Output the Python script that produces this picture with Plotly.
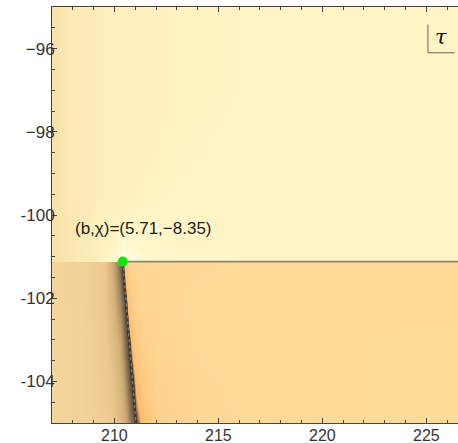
import plotly.graph_objects as go

# ---- critical point and boundary curves ----
crit_x, crit_y = 210.4, -101.12          # green marker
branch_bottom_x, branch_bottom_y = 211.04, -105.0   # lower end of the slanted branch
cut_right_x = 226.52                      # horizontal cut runs to the right edge
label_text = "(b,χ)=(5.71,−8.35)"
label_x, label_y = 208.01, -100.32

# ---- axis ticks ----
x_ticks = [210, 215, 220, 225]
y_ticks = [-104, -102, -100, -98, -96]
y_tick_text = ["-104", "-102", "-100", "−98", "−96"]

# ---- τ levels, lower half-plane (below the cut) ----
# 0 = pale sand on the far left, 0.5 = dark ridge along the branch,
# above 0.5 = orange glow fading into the yellow plateau on the right
lower_x = [207.0, 208.5, 209.5, 210.0, 210.25, 210.4, 210.56, 210.72,
           210.88, 211.04, 211.3, 212.0, 214.0, 218.0, 226.52]
lower_y = [-105.0, -104.03, -103.06, -102.09, -101.12]
lower_z = [
    [0.00, 0.02, 0.06, 0.11, 0.16, 0.20, 0.23, 0.32, 0.40, 0.50, 0.59, 0.82, 0.93, 0.97, 0.99],
    [0.00, 0.02, 0.07, 0.13, 0.19, 0.23, 0.32, 0.40, 0.50, 0.62, 0.72, 0.86, 0.94, 0.97, 0.99],
    [0.00, 0.02, 0.08, 0.16, 0.23, 0.32, 0.40, 0.50, 0.66, 0.76, 0.83, 0.90, 0.96, 0.97, 0.99],
    [0.00, 0.03, 0.09, 0.20, 0.32, 0.40, 0.50, 0.72, 0.80, 0.86, 0.89, 0.93, 0.96, 0.97, 0.97],
    [0.00, 0.03, 0.09, 0.25, 0.40, 0.50, 0.80, 0.86, 0.89, 0.90, 0.92, 0.93, 0.94, 0.96, 0.96],
]
lower_scale = [
    [0.000, "#f5d59b"], [0.100, "#ebc88d"], [0.208, "#d4b07a"], [0.317, "#a88a60"],
    [0.417, "#6e5c44"], [0.500, "#3f362b"], [0.590, "#ffb968"], [0.720, "#ffc880"],
    [0.860, "#ffd38f"], [1.000, "#ffdc99"],
]

# ---- τ levels, upper half-plane (above the cut) ----
upper_x = [207.0, 208.0, 209.5, 210.4, 211.5, 213.0, 217.0, 222.0, 226.52]
upper_y_edges = [-101.12, -100.8, -100.2, -99.2, -97.8, -96.3, -95.0]
upper_z = [
    [0.15, 0.38, 0.75, 1.00, 0.90, 0.82, 0.80, 0.80, 0.80],
    [0.15, 0.40, 0.70, 0.90, 0.84, 0.80, 0.80, 0.80, 0.80],
    [0.17, 0.43, 0.63, 0.72, 0.76, 0.78, 0.80, 0.80, 0.80],
    [0.20, 0.45, 0.60, 0.67, 0.72, 0.76, 0.79, 0.80, 0.80],
    [0.20, 0.46, 0.60, 0.66, 0.70, 0.74, 0.78, 0.80, 0.80],
    [0.20, 0.46, 0.60, 0.65, 0.70, 0.74, 0.78, 0.80, 0.80],
]
upper_scale = [
    [0.00, "#f7dca2"], [0.40, "#fce8b2"], [0.75, "#fff3c2"],
    [0.90, "#fff7cc"], [1.00, "#fffde0"],
]

fig = go.Figure()

fig.add_trace(go.Heatmap(
    x=lower_x, y=lower_y, z=lower_z, zmin=0, zmax=1,
    colorscale=lower_scale, zsmooth="best", showscale=False, hoverinfo="skip",
))
fig.add_trace(go.Heatmap(
    x=upper_x, y=upper_y_edges, z=upper_z, zmin=0, zmax=1,
    colorscale=upper_scale, zsmooth="best", showscale=False, hoverinfo="skip",
))

# horizontal cut
fig.add_trace(go.Scatter(
    x=[crit_x, cut_right_x], y=[crit_y, crit_y], mode="lines",
    line=dict(color="#8d846f", width=1.6), hoverinfo="skip", showlegend=False,
))
# slanted branch: dark core with a dashed overlay
fig.add_trace(go.Scatter(
    x=[crit_x, branch_bottom_x], y=[crit_y, branch_bottom_y], mode="lines",
    line=dict(color="#3a3632", width=2.2), hoverinfo="skip", showlegend=False,
))
fig.add_trace(go.Scatter(
    x=[crit_x, branch_bottom_x], y=[crit_y, branch_bottom_y], mode="lines",
    line=dict(color="#7f8a98", width=1.1, dash="3px,3px"), hoverinfo="skip", showlegend=False,
))
# critical point
fig.add_trace(go.Scatter(
    x=[crit_x], y=[crit_y], mode="markers",
    marker=dict(color="#12e612", size=10, line=dict(width=0)),
    hoverinfo="skip", showlegend=False,
))

fig.add_annotation(
    x=label_x, y=label_y, text=label_text, showarrow=False,
    xanchor="left", yanchor="middle",
    font=dict(family="Liberation Sans, Arial", size=17, color="#222222"),
)

# τ legend with its corner bracket
fig.add_annotation(
    xref="paper", yref="paper", x=0.958, y=0.928, text="<i>τ</i>",
    showarrow=False, xanchor="center", yanchor="middle",
    font=dict(family="DejaVu Serif, Liberation Serif", size=21, color="#111111"),
)
fig.add_shape(type="line", xref="paper", yref="paper",
              x0=0.926, x1=0.926, y0=0.890, y1=0.958,
              line=dict(color="#666666", width=1))
fig.add_shape(type="line", xref="paper", yref="paper",
              x0=0.926, x1=0.992, y0=0.890, y1=0.890,
              line=dict(color="#666666", width=1))

x_font = dict(family="Liberation Sans, Arial", size=16, color="#333333")
y_font = dict(family="Liberation Sans, Arial", size=17, color="#333333")
fig.update_xaxes(
    range=[207.0, 226.52], tickvals=x_ticks, ticks="inside", ticklen=5,
    tickcolor="#444444", showline=True, linecolor="#444444", linewidth=1,
    mirror="ticks", showgrid=False, zeroline=False, tickfont=x_font,
    ticklabelstandoff=-2, automargin=False,
    minor=dict(dtick=1, ticks="inside", ticklen=3, tickcolor="#444444", showgrid=False),
)
fig.update_yaxes(
    range=[-105, -95], tickvals=y_ticks, ticktext=y_tick_text, ticks="inside",
    ticklen=5, tickcolor="#444444", showline=True, linecolor="#444444",
    linewidth=1, mirror=False, showgrid=False, zeroline=False, tickfont=y_font,
    ticklabelstandoff=-7, automargin=False,
    minor=dict(dtick=0.5, ticks="inside", ticklen=3, tickcolor="#444444", showgrid=False),
)
fig.update_layout(
    width=458, height=443,
    margin=dict(l=52, r=0, t=7, b=20, pad=0),
    paper_bgcolor="white", plot_bgcolor="white", showlegend=False,
)

fig.write_html("out.html")
